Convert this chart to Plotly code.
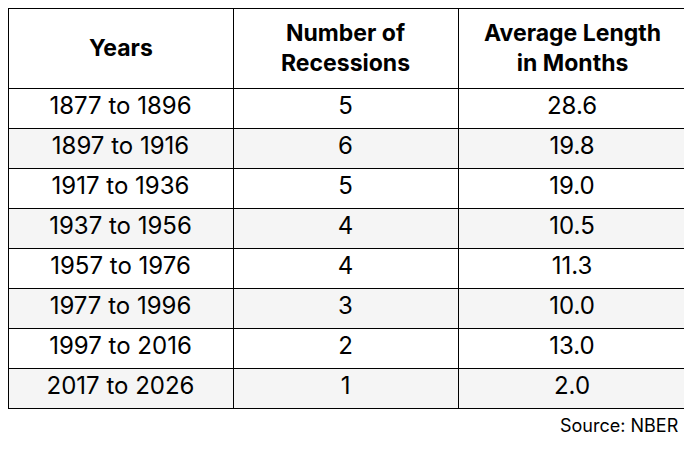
import plotly.graph_objects as go

# table data
years = ["1877 to 1896", "1897 to 1916", "1917 to 1936", "1937 to 1956",
         "1957 to 1976", "1977 to 1996", "1997 to 2016", "2017 to 2026"]
recessions = [5, 6, 5, 4, 4, 3, 2, 1]
avg_length = [28.6, 19.8, 19.0, 10.5, 11.3, 10.0, 13.0, 2.0]
headers = ["Years", "Number of<br>Recessions", "Average Length<br>in Months"]

W, H = 692, 450
OFF = 8  # page body margin shifts the figure by 8px
FONT = "Inter, Roboto, sans-serif"
col_w = [225, 225, 228]
fill = [["white" if i % 2 == 0 else "#f5f5f5" for i in range(len(years))]] * 3

fig = go.Figure(go.Table(
    domain=dict(x=[0, sum(col_w) / W], y=[0, 1]),
    columnwidth=col_w,
    header=dict(
        values=[""] * 3,
        height=80,
        fill_color="white",
        line=dict(color="black", width=1),
    ),
    cells=dict(
        values=[years, recessions, ["%.1f" % v for v in avg_length]],
        align="center",
        height=40,
        fill_color=fill,
        line=dict(color="black", width=1),
        font=dict(family=FONT, size=24, color="black"),
    ),
))

# header labels as annotations so multi-line text stays centred
left = 0
for h, w in zip(headers, col_w):
    fig.add_annotation(text="<b>%s</b>" % h, x=(left + w / 2) / W, y=1 - (48 - OFF) / H,
                       xref="paper", yref="paper", xanchor="center", yanchor="middle",
                       align="center", showarrow=False,
                       font=dict(family=FONT, size=23, color="black"))
    left += w

fig.add_annotation(text="Source: NBER", x=(681 - OFF) / W, y=1 - (425 - OFF) / H,
                   xref="paper", yref="paper", xanchor="right", yanchor="middle",
                   showarrow=False,
                   font=dict(family=FONT, size=18, color="black"))

fig.update_layout(width=W, height=H, margin=dict(l=0, r=0, t=0, b=0),
                  paper_bgcolor="white")
fig.write_html("out.html")
